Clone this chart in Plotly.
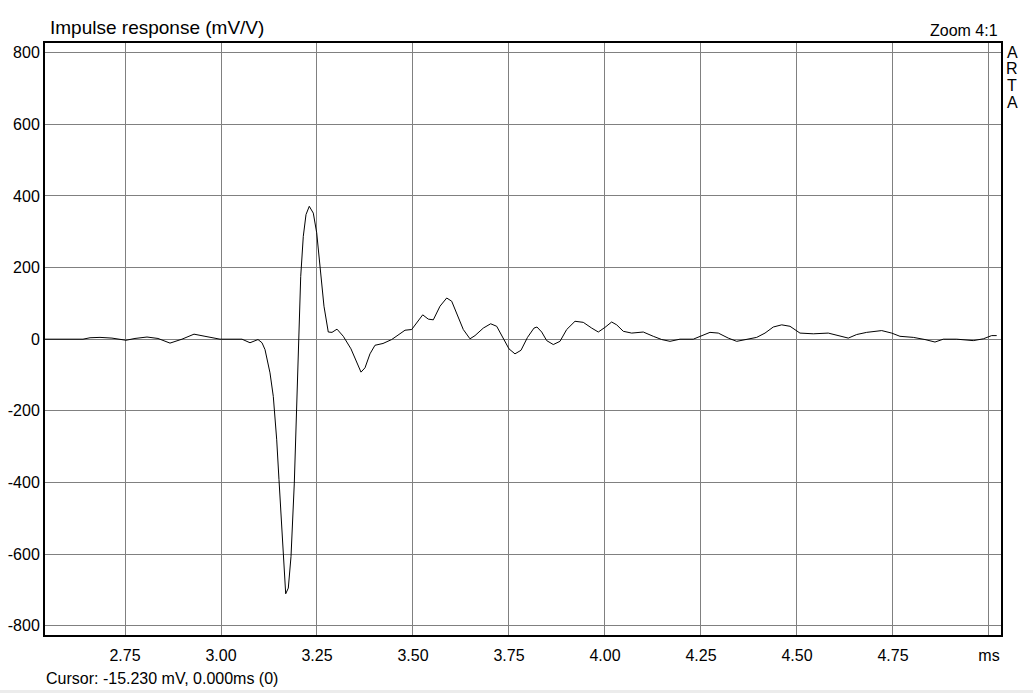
import plotly.graph_objects as go

# Impulse response samples (time in ms, amplitude in mV/V)
time_ms = [2.5417, 2.6406, 2.6589, 2.6849, 2.7161, 2.7526, 2.7760, 2.8073, 2.8359, 2.8672,
           2.8984, 2.9297, 2.9583, 2.9974, 3.0547, 3.0755, 3.0964, 3.1068, 3.1146, 3.1276,
           3.1362, 3.1451, 3.1510, 3.1581, 3.1622, 3.1685, 3.1753, 3.1823, 3.1909, 3.1971,
           3.2013, 3.2076, 3.2143, 3.2214, 3.2299, 3.2404, 3.2492, 3.2578, 3.2682, 3.2794,
           3.2891, 3.3021, 3.3185, 3.3385, 3.3534, 3.3646, 3.3750, 3.3880, 3.4010, 3.4219,
           3.4445, 3.4617, 3.4792, 3.4966, 3.5096, 3.5253, 3.5398, 3.5529, 3.5703, 3.5878,
           3.6008, 3.6138, 3.6310, 3.6484, 3.6615, 3.6831, 3.7023, 3.7180, 3.7352, 3.7500,
           3.7656, 3.7813, 3.7982, 3.8151, 3.8229, 3.8352, 3.8482, 3.8654, 3.8828, 3.9003,
           3.9219, 3.9435, 3.9654, 3.9826, 4.0000, 4.0174, 4.0305, 4.0477, 4.0695, 4.0997,
           4.1258, 4.1477, 4.1693, 4.1953, 4.2299, 4.2518, 4.2734, 4.2951, 4.3211, 4.3430,
           4.3690, 4.3951, 4.4167, 4.4383, 4.4602, 4.4818, 4.5078, 4.5425, 4.5815, 4.6076,
           4.6336, 4.6555, 4.6815, 4.7206, 4.7466, 4.7682, 4.8029, 4.8333, 4.8594, 4.8810,
           4.9159, 4.9591, 4.9852, 5.0070, 5.0201]
response_mv = [0, 0, 4, 5, 3, -3, 2, 6, 2, -11,
               0, 14, 8, 0, 0, -10, -1, -10, -29, -94,
               -160, -281, -392, -532, -607, -711, -695, -607, -402, -197,
               0, 175, 287, 348, 371, 352, 297, 203, 92, 20,
               19, 28, 8, -27, -66, -92, -80, -41, -17, -12,
               -1, 13, 25, 27, 45, 68, 56, 54, 92, 115,
               106, 73, 27, 1, 10, 31, 43, 36, 0, -27,
               -41, -31, 5, 31, 34, 20, -4, -15, -6, 27,
               50, 47, 31, 20, 33, 48, 40, 22, 17, 20,
               8, -1, -6, 0, 0, 10, 19, 17, 3, -6,
               -1, 5, 17, 34, 40, 36, 17, 15, 17, 10,
               3, 13, 19, 24, 17, 8, 5, -1, -8, 0,
               0, -4, 1, 10, 10]

x_tick_vals = [2.75, 3.00, 3.25, 3.50, 3.75, 4.00, 4.25, 4.50, 4.75, 5.00]
x_tick_text = ["2.75", "3.00", "3.25", "3.50", "3.75", "4.00", "4.25", "4.50", "4.75", "ms"]
y_tick_vals = [800, 600, 400, 200, 0, -200, -400, -600, -800]
y_tick_text = ["800", "600", "400", "200", "0", "-200", "-400", "-600", "-800"]

FONT = "Liberation Sans, Arial, sans-serif"
W, H = 1033, 693
L, R, T, B = 45, 32, 43, 58

fig = go.Figure()
fig.add_trace(go.Scatter(x=time_ms, y=response_mv, mode="lines",
                         line=dict(color="black", width=1), hoverinfo="skip",
                         showlegend=False))

fig.update_layout(
    width=W, height=H,
    margin=dict(l=L, r=R, t=T, b=B),
    paper_bgcolor="white", plot_bgcolor="white",
    font=dict(family=FONT, size=16, color="black"),
    xaxis=dict(range=[2.54167, 5.0313], tickmode="array", tickvals=x_tick_vals,
               ticktext=x_tick_text, showgrid=True, gridcolor="#808080", gridwidth=1,
               zeroline=False, showline=True, linecolor="black", linewidth=2,
               mirror=True, ticks="", tickfont=dict(size=16, family=FONT),
               ticklabelstandoff=5, automargin=False),
    yaxis=dict(range=[-826, 827], tickmode="array", tickvals=y_tick_vals,
               ticktext=y_tick_text, showgrid=True, gridcolor="#808080", gridwidth=1,
               zeroline=False, showline=True, linecolor="black", linewidth=2,
               mirror=True, ticks="", tickfont=dict(size=16, family=FONT),
               automargin=False),
)

ph = H - T - B
def py(pixel_y):
    return (H - B - pixel_y) / ph

pw = W - L - R
def px(pixel_x):
    return (pixel_x - L) / pw

annots = [
    dict(text="Impulse response (mV/V)", x=px(48), y=py(28), xanchor="left", yanchor="middle",
         font=dict(size=19, family=FONT)),
    dict(text="Zoom 4:1", x=px(1000), y=py(30), xanchor="right", yanchor="middle",
         font=dict(size=16, family=FONT)),
    dict(text="Cursor: -15.230 mV, 0.000ms (0)", x=px(44), y=py(678), xanchor="left",
         yanchor="middle", font=dict(size=16, family=FONT)),
]
for letter, cy in zip(["A", "R", "T", "A"], [52, 68.7, 85.3, 102]):
    annots.append(dict(text=letter, x=px(1012), y=py(cy), xanchor="center", yanchor="middle",
                       font=dict(size=16, family=FONT)))
for a in annots:
    a.update(xref="paper", yref="paper", showarrow=False)
fig.update_layout(annotations=annots)

fig.add_shape(type="rect", xref="paper", yref="paper", x0=-0.1, x1=1.1,
              y0=py(693), y1=py(690), fillcolor="#ececec", line=dict(width=0), layer="below")

fig.write_html("out.html", config={"displayModeBar": False},
               post_script="document.body.style.margin='0';document.body.style.overflow='hidden';")
